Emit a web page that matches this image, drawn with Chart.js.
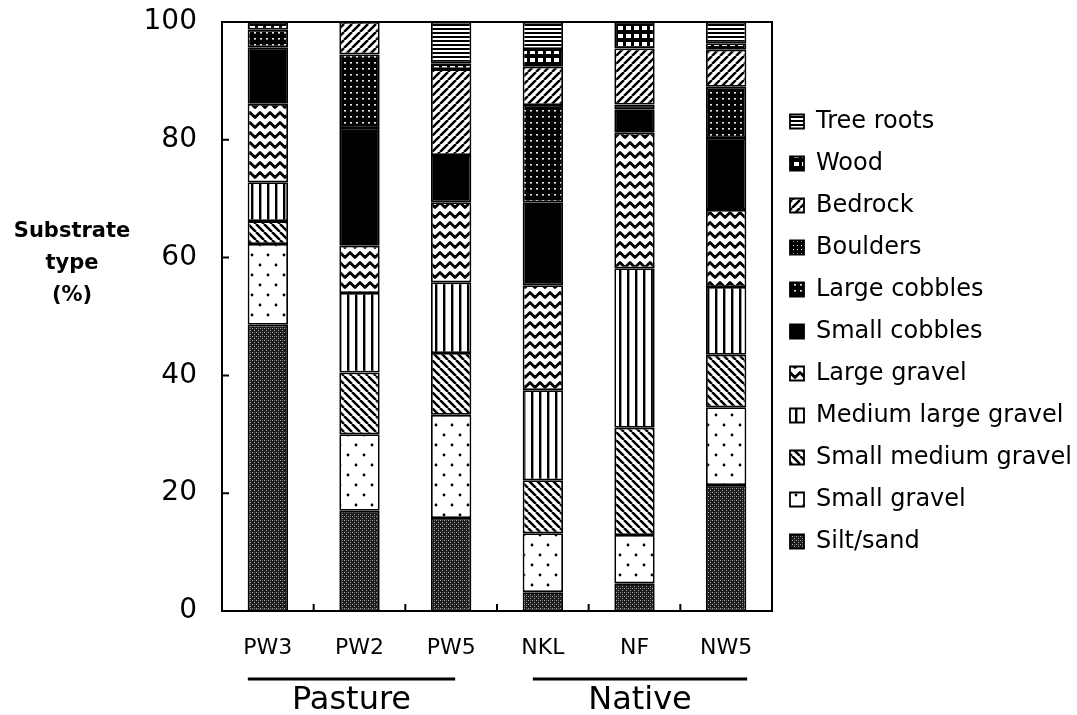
<!DOCTYPE html>
<html>
<head>
<meta charset="utf-8">
<title>Substrate type</title>
<script src="https://cdn.jsdelivr.net/npm/chart.js@4/dist/chart.umd.min.js"></script>
<style>
  html, body { margin: 0; padding: 0; background: #fff; }
  #wrap { width: 1077px; height: 715px; }
</style>
</head>
<body>
<div id="wrap"><canvas id="substrate-chart" width="1077" height="715"></canvas></div>
<script>
// Sites (x categories) and their groups
const sites = ['PW3', 'PW2', 'PW5', 'NKL', 'NF', 'NW5'];
const groups = ['Pasture', 'Native'];
const yTicks = [0, 20, 40, 60, 80, 100];

// Substrate percentages per site, bottom of the stack first
const siltSand          = [48.6, 17.0, 15.8,  3.2,  4.7, 21.4];
const smallGravel       = [13.7, 13.0, 17.5, 10.0,  8.2, 13.2];
const smallMediumGravel = [ 3.9, 10.5, 10.5,  9.0, 18.2,  8.9];
const mediumLargeGravel = [ 6.6, 13.5, 12.0, 15.3, 27.1, 11.5];
const largeGravel       = [13.3,  8.0, 13.6, 17.8, 23.0, 13.1];
const smallCobbles      = [ 9.6, 20.0,  8.0, 14.1,  4.0, 12.2];
const largeCobbles      = [ 3.0, 12.5,  0.0, 16.5,  0.8,  8.7];
const boulders          = [ 0.0,  0.0,  0.0,  0.0,  0.0,  0.0];
const bedrock           = [ 0.0,  5.5, 14.6,  6.5,  9.5,  6.3];
const wood              = [ 1.3,  0.0,  1.0,  3.0,  4.5,  1.1];
const treeRoots         = [ 0.0,  0.0,  7.0,  4.6,  0.0,  3.6];

const FONT = 'DejaVu Sans';

// --- fill patterns (black & white, like the printed figure) ---
function makePattern(w, h, paint) {
  const tile = document.createElement('canvas');
  tile.width = w;
  tile.height = h;
  const g = tile.getContext('2d');
  paint(g, w, h);
  return g.createPattern(tile, 'repeat');
}

function hatch(dir, size, lw) {
  return makePattern(size, size, (g) => {
    g.fillStyle = '#fff';
    g.fillRect(0, 0, size, size);
    g.strokeStyle = '#000';
    g.lineWidth = lw;
    g.beginPath();
    for (let k = -1; k <= 1; k++) {
      const x0 = k * size;
      if (dir === '/') {
        g.moveTo(x0, size);
        g.lineTo(x0 + size, 0);
      } else {
        g.moveTo(x0, 0);
        g.lineTo(x0 + size, size);
      }
    }
    g.stroke();
  });
}

const patterns = {
  silt: makePattern(4, 4, (g) => {
    g.fillStyle = '#1c1c1c';
    g.fillRect(0, 0, 4, 4);
    g.fillStyle = '#a8a8a8';
    g.fillRect(0, 0, 1, 1);
    g.fillRect(2, 2, 1, 1);
    g.fillStyle = '#606060';
    g.fillRect(2, 0, 1, 1);
  }),
  smallGravel: makePattern(16, 20, (g) => {
    g.fillStyle = '#fff';
    g.fillRect(0, 0, 16, 20);
    g.fillStyle = '#000';
    g.beginPath(); g.arc(4, 5, 1.4, 0, Math.PI * 2); g.fill();
    g.beginPath(); g.arc(12, 15, 1.4, 0, Math.PI * 2); g.fill();
  }),
  smallMedium: hatch('\\', 8, 2.5),
  mediumLarge: makePattern(8, 4, (g) => {
    g.fillStyle = '#fff';
    g.fillRect(0, 0, 8, 4);
    g.fillStyle = '#000';
    g.fillRect(3, 0, 2.4, 4);
  }),
  largeGravel: makePattern(10, 10, (g) => {
    g.fillStyle = '#fff';
    g.fillRect(0, 0, 10, 10);
    g.strokeStyle = '#000';
    g.lineWidth = 2.8;
    g.lineJoin = 'round';
    g.beginPath();
    g.moveTo(-5, 7.5); g.lineTo(0, 2.5); g.lineTo(5, 7.5); g.lineTo(10, 2.5); g.lineTo(15, 7.5);
    g.stroke();
  }),
  smallCobbles: '#000',
  largeCobbles: makePattern(6, 6, (g) => {
    g.fillStyle = '#000';
    g.fillRect(0, 0, 6, 6);
    g.fillStyle = '#e8e8e8';
    g.fillRect(2, 2, 2, 1.6);
  }),
  boulders: makePattern(4, 4, (g) => {
    g.fillStyle = '#000';
    g.fillRect(0, 0, 4, 4);
    g.fillStyle = '#fff';
    g.fillRect(1, 1, 1, 1);
  }),
  bedrock: hatch('/', 8, 2.5),
  wood: makePattern(8, 8, (g) => {
    g.fillStyle = '#000';
    g.fillRect(0, 0, 8, 8);
    g.fillStyle = '#fff';
    g.fillRect(2, 2, 5, 4);
  }),
  treeRoots: makePattern(4, 4, (g) => {
    g.fillStyle = '#fff';
    g.fillRect(0, 0, 4, 4);
    g.fillStyle = '#000';
    g.fillRect(0, 0, 4, 2);
  })
};

const series = [
  ['Silt/sand', siltSand, patterns.silt],
  ['Small gravel', smallGravel, patterns.smallGravel],
  ['Small medium gravel', smallMediumGravel, patterns.smallMedium],
  ['Medium large gravel', mediumLargeGravel, patterns.mediumLarge],
  ['Large gravel', largeGravel, patterns.largeGravel],
  ['Small cobbles', smallCobbles, patterns.smallCobbles],
  ['Large cobbles', largeCobbles, patterns.largeCobbles],
  ['Boulders', boulders, patterns.boulders],
  ['Bedrock', bedrock, patterns.bedrock],
  ['Wood', wood, patterns.wood],
  ['Tree roots', treeRoots, patterns.treeRoots]
];

const datasets = series.map(([label, data, fill]) => ({
  label: label,
  data: data,
  backgroundColor: fill,
  borderColor: '#000',
  borderWidth: 1.8,
  borderSkipped: false,
  barPercentage: 0.44,
  categoryPercentage: 1
}));

// Box around the plot with inward tick marks
const framePlugin = {
  id: 'frame',
  afterDatasetsDraw(chart) {
    const { ctx, chartArea: a, scales: { x, y } } = chart;
    ctx.save();
    ctx.strokeStyle = '#000';
    ctx.lineWidth = 2;
    ctx.strokeRect(a.left, a.top, a.right - a.left, a.bottom - a.top);
    ctx.beginPath();
    yTicks.slice(1, -1).forEach((v) => {
      const py = y.getPixelForValue(v);
      ctx.moveTo(a.left, py);
      ctx.lineTo(a.left + 7, py);
    });
    for (let i = 0; i < sites.length - 1; i++) {
      const px = (x.getPixelForValue(i) + x.getPixelForValue(i + 1)) / 2;
      ctx.moveTo(px, a.bottom);
      ctx.lineTo(px, a.bottom - 7);
    }
    ctx.stroke();
    ctx.restore();
  }
};

// Group underlines + names, and the horizontal y-axis title
const annotatePlugin = {
  id: 'annotate',
  afterDraw(chart) {
    const { ctx, chartArea: a, scales: { x } } = chart;
    ctx.save();
    ctx.fillStyle = '#000';
    ctx.strokeStyle = '#000';
    ctx.lineWidth = 3;
    const spans = [
      [x.getPixelForValue(0) - 20, x.getPixelForValue(2) + 4],
      [x.getPixelForValue(3) - 10, x.getPixelForValue(5) + 21]
    ];
    ctx.font = '32px "' + FONT + '"';
    ctx.textAlign = 'center';
    ctx.textBaseline = 'middle';
    spans.forEach(([x0, x1], i) => {
      ctx.beginPath();
      ctx.moveTo(x0, a.bottom + 68);
      ctx.lineTo(x1, a.bottom + 68);
      ctx.stroke();
      ctx.fillText(groups[i], (x0 + x1) / 2, a.bottom + 90);
    });

    ctx.font = 'bold 21px "' + FONT + '"';
    ['Substrate', 'type', '(%)'].forEach((line, i) => {
      ctx.fillText(line, 72, a.top + 210 + i * 32);
    });
    ctx.restore();
  }
};

new Chart(document.getElementById('substrate-chart'), {
  type: 'bar',
  data: { labels: sites, datasets: datasets },
  options: {
    responsive: false,
    animation: false,
    layout: { padding: { left: 0, top: 22, right: 0, bottom: 0 } },
    scales: {
      x: {
        stacked: true,
        grid: { display: false, drawTicks: true, tickLength: 21 },
        border: { display: false },
        ticks: { color: '#000', font: { family: FONT, size: 22 }, padding: 3 },
        afterFit(scale) { scale.height = 104; }
      },
      y: {
        stacked: true,
        min: 0,
        max: 100,
        grid: { display: false, drawTicks: true, tickLength: 22 },
        border: { display: false },
        ticks: { stepSize: 20, color: '#000', font: { family: FONT, size: 28 }, padding: 3 },
        afterFit(scale) { scale.width = 222; }
      }
    },
    plugins: {
      tooltip: { enabled: false },
      legend: {
        position: 'right',
        fullSize: false,
        reverse: true,
        maxWidth: 305,
        title: { display: true, text: ' ', font: { size: 10 }, padding: 9 },
        labels: {
          boxWidth: 14,
          boxHeight: 14,
          padding: 18,
          color: '#000',
          font: { family: FONT, size: 24 }
        }
      }
    }
  },
  plugins: [framePlugin, annotatePlugin]
});
</script>
</body>
</html>
